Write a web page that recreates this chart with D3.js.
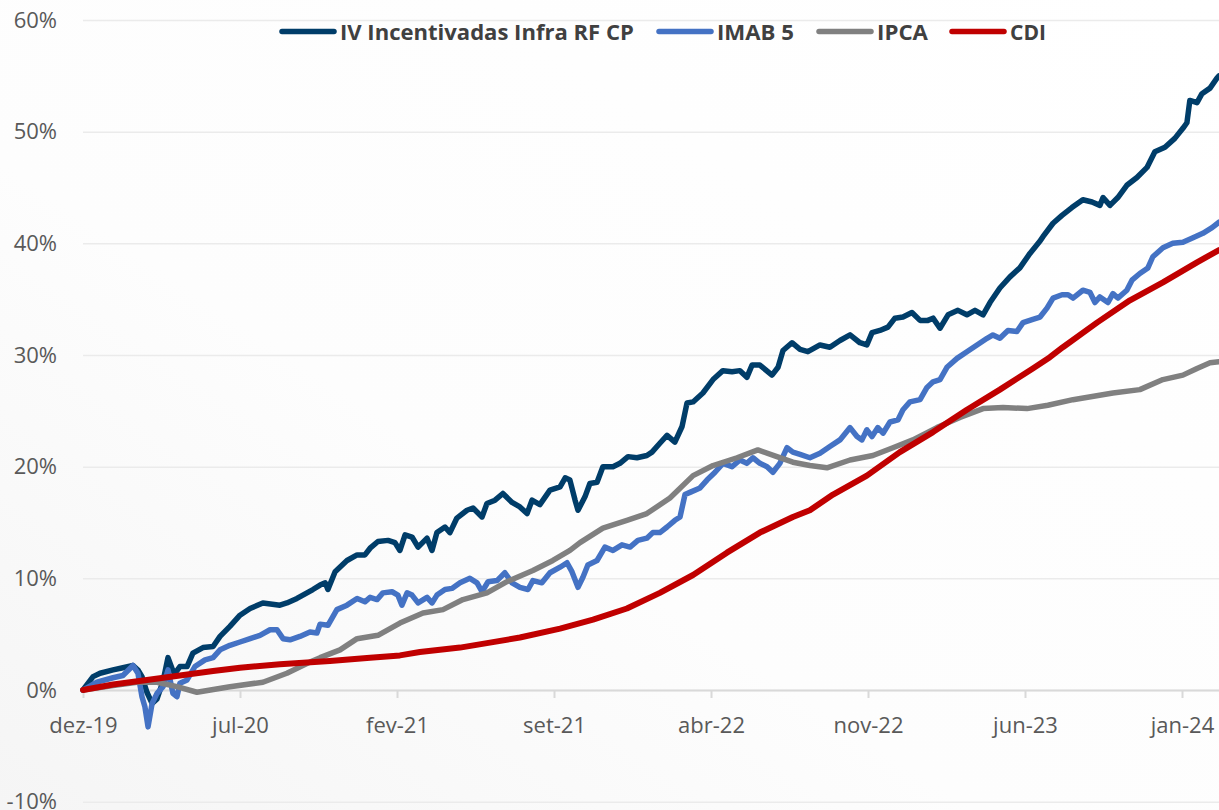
<!DOCTYPE html>
<html lang="pt">
<head>
<meta charset="UTF-8">
<title>IV Incentivadas Infra RF CP</title>
<script src="https://cdn.jsdelivr.net/npm/d3@7"></script>
<style>
  html, body { margin: 0; padding: 0; background: #ffffff; }
  svg { display: block; }
</style>
</head>
<body>
<svg id="chart" width="1219" height="810"></svg>
<script>
// x = months elapsed since dez-19 (start of the series)
var tickMonths = [0, 7, 14, 21, 28, 35, 42, 49];
var tickLabels = ["dez-19", "jul-20", "fev-21", "set-21", "abr-22", "nov-22", "jun-23", "jan-24"];
var yTicks = [-10, 0, 10, 20, 30, 40, 50, 60];

var seriesNames = ["IV Incentivadas Infra RF CP", "IMAB 5", "IPCA", "CDI"];
var seriesColors = ["#003d69", "#4472c4", "#808080", "#c00000"];

var ivMonths = [0, 0.45, 0.76, 1.34, 1.78, 2.23, 2.45, 2.63, 2.85, 3.08, 3.30, 3.57, 3.79, 4.01, 4.10, 4.32, 4.64, 4.90, 5.35, 5.80, 6.11, 6.55, 7.00, 7.45, 8.02, 8.78, 9.09, 9.54, 10.25, 10.57, 10.80, 10.92, 11.24, 11.77, 12.22, 12.57, 12.80, 13.15, 13.60, 13.91, 14.13, 14.36, 14.67, 14.94, 15.34, 15.56, 15.78, 16.14, 16.36, 16.67, 17.12, 17.39, 17.79, 18.01, 18.37, 18.72, 19.13, 19.48, 19.80, 20.02, 20.37, 20.82, 21.27, 21.50, 21.71, 21.94, 22.07, 22.38, 22.60, 22.92, 23.18, 23.63, 23.94, 24.30, 24.70, 25.14, 25.37, 25.72, 26.04, 26.39, 26.71, 26.93, 27.20, 27.64, 28.09, 28.53, 28.94, 29.29, 29.60, 29.83, 30.18, 30.72, 30.99, 31.21, 31.61, 31.97, 32.32, 32.86, 33.30, 33.75, 34.20, 34.64, 34.95, 35.18, 35.53, 35.89, 36.20, 36.56, 36.96, 37.32, 37.67, 37.90, 38.21, 38.57, 39.01, 39.41, 39.77, 40.13, 40.44, 40.88, 41.33, 41.77, 42.22, 42.67, 42.80, 43.25, 43.65, 44.09, 44.58, 44.99, 45.34, 45.48, 45.79, 46.14, 46.54, 46.99, 47.44, 47.79, 48.24, 48.68, 49.04, 49.22, 49.35, 49.67, 49.89, 50.25, 50.56, 50.65];
var ivValues = [0, 1.2, 1.5, 1.8, 2.0, 2.2, 1.8, 1.2, -0.2, -1.2, -0.8, 0.8, 2.9, 1.7, 1.5, 2.1, 2.1, 3.3, 3.8, 3.9, 4.8, 5.7, 6.7, 7.3, 7.8, 7.6, 7.8, 8.2, 9.0, 9.4, 9.6, 9.0, 10.6, 11.6, 12.1, 12.1, 12.7, 13.3, 13.4, 13.2, 12.5, 13.9, 13.7, 12.8, 13.6, 12.5, 14.1, 14.6, 14.1, 15.4, 16.1, 16.3, 15.5, 16.7, 17.0, 17.6, 16.8, 16.4, 15.8, 17.0, 16.6, 17.9, 18.2, 19.0, 18.8, 17.0, 16.1, 17.3, 18.5, 18.6, 20.0, 20.0, 20.3, 20.9, 20.8, 21.0, 21.3, 22.1, 22.8, 22.2, 23.6, 25.7, 25.8, 26.6, 27.8, 28.6, 28.5, 28.6, 28.0, 29.1, 29.1, 28.2, 28.9, 30.4, 31.1, 30.5, 30.3, 30.9, 30.7, 31.3, 31.8, 31.1, 30.9, 32.0, 32.2, 32.5, 33.3, 33.4, 33.8, 33.1, 33.1, 33.3, 32.4, 33.6, 34.0, 33.6, 34.0, 33.6, 34.7, 36.0, 37.0, 37.8, 39.1, 40.2, 40.6, 41.8, 42.5, 43.2, 43.9, 43.7, 43.4, 44.1, 43.4, 44.1, 45.2, 45.9, 46.8, 48.2, 48.6, 49.4, 50.3, 50.8, 52.8, 52.6, 53.4, 53.9, 54.8, 55.0];

var imabMonths = [0, 0.62, 1.34, 1.78, 2.23, 2.45, 2.63, 2.76, 2.90, 3.08, 3.30, 3.57, 3.79, 4.01, 4.19, 4.32, 4.64, 4.99, 5.44, 5.80, 6.11, 6.55, 7.00, 7.45, 7.89, 8.34, 8.65, 8.92, 9.23, 9.67, 10.12, 10.43, 10.57, 10.92, 11.32, 11.77, 12.22, 12.57, 12.80, 13.11, 13.37, 13.78, 14.04, 14.22, 14.45, 14.67, 14.94, 15.34, 15.56, 15.78, 16.14, 16.45, 16.81, 17.25, 17.57, 17.79, 18.06, 18.46, 18.81, 19.13, 19.48, 19.84, 20.06, 20.46, 20.82, 21.27, 21.58, 21.80, 22.07, 22.29, 22.51, 22.92, 23.27, 23.63, 24.03, 24.39, 24.74, 25.14, 25.41, 25.72, 26.04, 26.39, 26.62, 26.84, 27.06, 27.51, 27.82, 28.18, 28.53, 28.94, 29.29, 29.60, 29.87, 30.18, 30.50, 30.76, 31.07, 31.39, 31.65, 31.97, 32.41, 32.86, 33.30, 33.75, 34.20, 34.51, 34.73, 34.95, 35.18, 35.44, 35.67, 35.98, 36.34, 36.56, 36.87, 37.32, 37.63, 37.90, 38.21, 38.52, 38.97, 39.41, 39.86, 40.31, 40.57, 40.88, 41.24, 41.64, 41.91, 42.35, 42.67, 42.98, 43.25, 43.65, 43.92, 44.14, 44.58, 44.90, 45.12, 45.34, 45.70, 45.92, 46.14, 46.54, 46.77, 47.12, 47.48, 47.70, 48.15, 48.59, 49.04, 49.49, 49.93, 50.34, 50.65];
var imabValues = [0, 0.7, 1.1, 1.3, 2.2, 1.5, -0.6, -1.5, -3.3, -1.2, -0.3, 0.3, 1.8, -0.3, -0.6, 0.6, 0.9, 2.1, 2.7, 2.9, 3.6, 4.0, 4.3, 4.6, 4.9, 5.4, 5.4, 4.6, 4.5, 4.8, 5.2, 5.1, 5.9, 5.8, 7.2, 7.6, 8.2, 7.9, 8.3, 8.1, 8.7, 8.8, 8.5, 7.6, 8.7, 8.5, 7.8, 8.3, 7.8, 8.5, 9.0, 9.1, 9.6, 10.0, 9.6, 8.8, 9.7, 9.8, 10.5, 9.6, 9.2, 9.0, 9.8, 9.6, 10.5, 11.0, 11.4, 10.6, 9.2, 10.1, 11.2, 11.6, 12.8, 12.5, 13.0, 12.8, 13.4, 13.6, 14.1, 14.1, 14.6, 15.2, 15.5, 17.5, 17.7, 18.1, 18.8, 19.5, 20.3, 20.0, 20.6, 20.3, 20.8, 20.3, 20.0, 19.5, 20.3, 21.7, 21.3, 21.1, 20.8, 21.2, 21.8, 22.4, 23.5, 22.7, 22.4, 23.3, 22.7, 23.5, 23.0, 24.0, 24.2, 25.1, 25.8, 26.0, 27.1, 27.6, 27.8, 28.9, 29.7, 30.3, 30.9, 31.5, 31.8, 31.5, 32.2, 32.1, 32.9, 33.2, 33.4, 34.2, 35.1, 35.4, 35.4, 35.1, 35.8, 35.6, 34.7, 35.2, 34.7, 35.5, 35.1, 35.8, 36.7, 37.3, 37.8, 38.8, 39.6, 40.0, 40.1, 40.5, 40.9, 41.4, 41.9];

var ipcaMonths = [0, 1.34, 2.41, 3.30, 4.19, 5.08, 6.55, 8.02, 9.09, 10.12, 10.57, 11.46, 12.22, 13.15, 14.13, 15.16, 16.05, 16.94, 18.01, 18.90, 20.06, 20.95, 21.71, 22.16, 23.18, 24.25, 25.14, 26.17, 27.20, 28.09, 29.16, 30.09, 30.94, 31.65, 32.41, 33.17, 34.20, 35.22, 36.11, 37.00, 38.07, 39.10, 40.13, 41.02, 42.09, 43.02, 44.14, 45.92, 47.12, 48.15, 49.04, 49.67, 50.25, 50.65];
var ipcaValues = [0, 0.4, 0.7, 0.7, 0.3, -0.2, 0.3, 0.7, 1.5, 2.5, 2.9, 3.6, 4.6, 4.9, 6.0, 6.9, 7.2, 8.1, 8.7, 9.7, 10.7, 11.6, 12.5, 13.2, 14.5, 15.2, 15.8, 17.2, 19.2, 20.1, 20.8, 21.5, 20.9, 20.4, 20.1, 19.9, 20.6, 21.0, 21.7, 22.4, 23.5, 24.4, 25.2, 25.3, 25.2, 25.5, 26.0, 26.6, 26.9, 27.8, 28.2, 28.8, 29.3, 29.4];

var cdiMonths = [0, 1.34, 2.85, 4.32, 5.80, 7.00, 8.78, 11.01, 12.80, 14.13, 15.02, 16.81, 18.01, 19.48, 21.27, 22.74, 24.25, 25.72, 27.20, 28.71, 30.18, 31.65, 32.41, 33.44, 34.95, 36.42, 37.90, 39.41, 40.88, 42.35, 43.11, 43.69, 45.21, 46.68, 48.15, 49.67, 50.65];
var cdiValues = [0, 0.5, 0.9, 1.3, 1.7, 2.0, 2.3, 2.6, 2.9, 3.1, 3.4, 3.8, 4.2, 4.7, 5.5, 6.3, 7.3, 8.7, 10.3, 12.3, 14.1, 15.5, 16.1, 17.5, 19.2, 21.3, 23.1, 25.1, 26.9, 28.8, 29.8, 30.7, 32.9, 34.9, 36.5, 38.3, 39.4];

var allMonths = [ivMonths, imabMonths, ipcaMonths, cdiMonths];
var allValues = [ivValues, imabValues, ipcaValues, cdiValues];

var W = 1219, H = 810;
var svg = d3.select("#chart");

// faint background shading like the original
var defs = svg.append("defs");
var grad = defs.append("linearGradient").attr("id", "bg")
    .attr("x1", "100%").attr("y1", "0%").attr("x2", "0%").attr("y2", "100%");
grad.append("stop").attr("offset", "0%").attr("stop-color", "#ffffff");
grad.append("stop").attr("offset", "60%").attr("stop-color", "#fdfdfd");
grad.append("stop").attr("offset", "100%").attr("stop-color", "#f5f5f5");
svg.append("rect").attr("width", W).attr("height", H).attr("fill", "url(#bg)");

var x = d3.scaleLinear().domain([0, 50.65]).range([83, 1219]);
var y = d3.scaleLinear().domain([-10, 60]).range([801.7, 20]);

// y axis with gridlines
var yAxis = svg.append("g")
    .attr("transform", "translate(83,0)")
    .call(d3.axisLeft(y).tickValues(yTicks).tickSize(-(W - 83)).tickPadding(26)
        .tickFormat(function(d) { return d + "%"; }));
yAxis.select(".domain").remove();
yAxis.selectAll(".tick line").attr("stroke", "#ebebeb").attr("stroke-width", 1.5);
yAxis.selectAll(".tick text")
    .attr("fill", "#595959")
    .style("font-family", "'Open Sans', 'Noto Sans', sans-serif")
    .style("font-size", "22px");

// x axis on the 0% line
var xAxis = svg.append("g")
    .attr("transform", "translate(0," + y(0) + ")")
    .call(d3.axisBottom(x).tickValues(tickMonths).tickSize(8).tickSizeOuter(0).tickPadding(19)
        .tickFormat(function(d, i) { return tickLabels[i]; }));
xAxis.select(".domain").attr("stroke", "#d9d9d9").attr("stroke-width", 2);
xAxis.selectAll(".tick line").attr("stroke", "#d9d9d9").attr("stroke-width", 2);
xAxis.selectAll(".tick text")
    .attr("fill", "#595959")
    .style("font-family", "'Open Sans', 'Noto Sans', sans-serif")
    .style("font-size", "22px");

// series lines
var line = d3.line()
    .x(function(d) { return x(d[0]); })
    .y(function(d) { return y(d[1]); });

var lines = svg.append("g");
seriesNames.forEach(function(name, i) {
    var pts = allMonths[i].map(function(m, j) { return [m, allValues[i][j]]; });
    lines.append("path")
        .attr("d", line(pts))
        .attr("fill", "none")
        .attr("stroke", seriesColors[i])
        .attr("stroke-width", i == 3 ? 6 : 5.5)
        .attr("stroke-linejoin", "round")
        .attr("stroke-linecap", "round");
});

// legend (text squeezed horizontally like the original condensed font)
var legendSwatch = [282, 659, 819, 952];
var legendTextW = [294, 77, 51, 36];
var legend = svg.append("g");
seriesNames.forEach(function(name, i) {
    var lx = legendSwatch[i];
    legend.append("line")
        .attr("x1", lx).attr("x2", lx + 52)
        .attr("y1", 31.5).attr("y2", 31.5)
        .attr("stroke", seriesColors[i])
        .attr("stroke-width", 5.5)
        .attr("stroke-linecap", "round");
    var g = legend.append("g");
    var t = g.append("text")
        .attr("x", 0).attr("y", 0)
        .attr("fill", "#404040")
        .style("font-family", "'Open Sans', 'Noto Sans', sans-serif")
        .style("font-weight", "bold")
        .style("font-size", "22px")
        .text(name);
    var sx = legendTextW[i] / t.node().getComputedTextLength();
    g.attr("transform", "translate(" + (lx + 58) + ",39.5) scale(" + sx + ",1)");
});
</script>
</body>
</html>
